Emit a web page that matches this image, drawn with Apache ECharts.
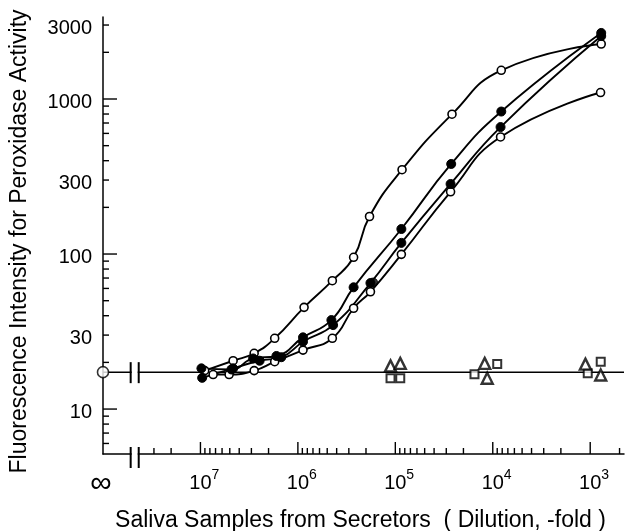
<!DOCTYPE html>
<html><head><meta charset="utf-8">
<script src="https://cdn.jsdelivr.net/npm/echarts@6/dist/echarts.min.js"></script>
<style>html,body{margin:0;padding:0;background:#fff}#c{width:628px;height:531px}</style>
</head><body><div id="c"></div>
<script>
// ---- data: [dilution (-fold), fluorescence intensity] ----
const curveA = [[9.04e6,17.7],[4.62e6,20.5],[2.81e6,22.9],[1.73e6,28.6],[8.64e5,45.3],[4.43e5,67.3],[2.68e5,95.3],[1.84e5,174.6],[8.53e4,350],[2.62e4,798],[8.18e3,1531],[7.71e2,2264]];
const curveB = [[9.77e6,18.3],[4.81e6,18.0],[2.88e6,21.2],[1.66e6,22.0],[8.86e5,29.0],[4.53e5,37.5],[2.68e5,61.0],[8.67e4,145],[2.67e4,381],[8.18e3,830],[7.71e2,2668]];
const curveC = [[9.6e6,15.9],[4.62e6,18.3],[2.47e6,20.5],[1.48e6,21.6],[8.86e5,27.2],[4.35e5,34.8],[1.80e5,65.0],[8.67e4,118],[2.71e4,283],[8.32e3,659],[7.71e2,2547]];
const curveCExtra = [[1.69e5,65.5]];
const curveD = [[7.41e6,16.7],[5.08e6,16.7],[2.81e6,17.7],[1.73e6,20.2],[8.86e5,24.0],[4.43e5,28.6],[2.68e5,44.7],[1.80e5,57.1],[8.67e4,99.5],[2.71e4,252],[8.32e3,569],[7.83e2,1101]];
const nonSecSquares = [[1.12e5,15.8],[8.9e4,15.8],[1.54e4,16.8],[9.0e3,19.5],[1.06e3,17.0],[7.8e2,20.2]];
const nonSecTriangles = [[1.12e5,19.0],[8.9e4,19.7],[1.21e4,19.7],[1.14e4,15.8],[1.12e3,19.5],[7.8e2,16.6]];
const blankLevel = 17.3;          // blank (∞ dilution)
const infinityDilution = 1e8;     // where "∞" sits on the axis
const xAxisMin = 450;             // right end of the dilution axis
const yAxisMin = 5.13, yAxisMax = 3380;
const breakDilutions = [5.2e7, 4.3e7];

// ---- ticks & labels ----
const xMajorTicks = [1e7, 1e6, 1e5, 1e4, 1e3];
const xMinorTicks = [3e7, 2e7,
  9e6, 8e6, 7e6, 6e6, 5e6, 4e6, 3e6, 2e6,
  9e5, 8e5, 7e5, 6e5, 5e5, 4e5, 3e5, 2e5,
  9e4, 8e4, 7e4, 6e4, 5e4, 4e4, 3e4, 2e4,
  9e3, 8e3, 7e3, 6e3, 5e3, 4e3, 3e3, 2e3, 500];
const yMajorTicks = [10, 100, 1000];
const yMinorTicks = [6, 7, 8, 9, 20, 30, 40, 50, 60, 70, 80, 90, 200, 300, 400, 500, 600, 700, 800, 900, 2000, 3000];
const yTickLabels = [10, 30, 100, 300, 1000, 3000];

const FONT = '"Liberation Sans", Arial, Helvetica, sans-serif';
const chart = echarts.init(document.getElementById('c'), null, {renderer: 'canvas'});

function tickSeries(vals, dir, len) {
  return {
    type: 'custom', clip: false, silent: true, z: 6,
    data: vals.map(v => dir === 'x' ? [v, yAxisMin] : [infinityDilution, v]),
    encode: {x: 0, y: 1},
    renderItem: (p, api) => {
      const c = api.coord([api.value(0), api.value(1)]);
      const shape = dir === 'x'
        ? {x1: c[0], y1: c[1], x2: c[0], y2: c[1] - len}
        : {x1: c[0], y1: c[1], x2: c[0] + len, y2: c[1]};
      return {type: 'line', shape, style: {stroke: '#000', lineWidth: 1.4}};
    }
  };
}

const openCircle = {color: '#fff', borderColor: '#000', borderWidth: 1.6};
const filledCircle = {color: '#000', borderColor: '#000', borderWidth: 1};
function curve(data, style, size) {
  return {type: 'line', data, smooth: 0.5, symbol: 'circle', symbolSize: size, showSymbol: true,
    lineStyle: {color: '#000', width: 1.9}, itemStyle: style, z: 3, clip: false};
}

chart.setOption({
  animation: false,
  backgroundColor: '#fff',
  grid: {left: 103, right: 4, top: 17, bottom: 77, containLabel: false, outerBoundsMode: 'none'},
  xAxis: {
    type: 'log', logBase: 10, inverse: true, min: xAxisMin, max: infinityDilution,
    axisLine: {show: true, lineStyle: {color: '#000', width: 1.5}},
    axisTick: {show: false}, axisLabel: {show: false}, splitLine: {show: false}, minorTick: {show: false},
    name: 'Saliva Samples from Secretors  ( Dilution, -fold )', nameLocation: 'middle', nameGap: 55,
    nameTextStyle: {fontSize: 23, color: '#000', fontFamily: FONT, padding: [0, 6, 0, 0]}
  },
  yAxis: {
    type: 'log', logBase: 10, min: yAxisMin, max: yAxisMax,
    axisLine: {show: true, lineStyle: {color: '#000', width: 1.5}},
    axisTick: {show: false}, axisLabel: {show: false}, splitLine: {show: false}, minorTick: {show: false},
    name: 'Fluorescence Intensity for Peroxidase Activity', nameLocation: 'middle', nameGap: 72,
    nameTextStyle: {fontSize: 23, color: '#000', fontFamily: FONT, padding: [0, 12, 0, 0]}
  },
  series: [
    {type: 'line', data: [[infinityDilution, blankLevel], [xAxisMin, blankLevel]], symbol: 'none',
      lineStyle: {color: '#000', width: 1.5}, z: 2, silent: true},
    curve(curveA, openCircle, 8),
    curve(curveD, openCircle, 8),
    curve(curveB, filledCircle, 9),
    curve(curveC, filledCircle, 9),
    {type: 'scatter', data: curveCExtra, symbol: 'circle', symbolSize: 9, itemStyle: filledCircle, z: 4},
    {type: 'scatter', data: nonSecSquares, symbol: 'rect', symbolSize: 8,
      itemStyle: {color: '#fff', borderColor: '#000', borderWidth: 2}, z: 4},
    {type: 'scatter', data: nonSecTriangles, symbol: 'triangle', symbolSize: 11,
      itemStyle: {color: '#fff', borderColor: '#000', borderWidth: 2.4}, z: 4},
    {type: 'scatter', data: [[infinityDilution, blankLevel]], symbol: 'circle', symbolSize: 11, clip: false,
      itemStyle: {color: '#fff', borderColor: '#000', borderWidth: 1.6}, z: 7},
    tickSeries(xMajorTicks, 'x', 12),
    tickSeries(xMinorTicks, 'x', 6),
    tickSeries(yMajorTicks, 'y', 14),
    tickSeries(yMinorTicks, 'y', 6),
    { // x tick labels 10^n
      type: 'custom', clip: false, silent: true, z: 6,
      data: xMajorTicks.map(v => [v, yAxisMin]), encode: {x: 0, y: 1},
      renderItem: (p, api) => {
        const c = api.coord([api.value(0), api.value(1)]);
        const e = Math.round(Math.log10(api.value(0)));
        return {type: 'group', children: [
          {type: 'text', x: c[0], y: c[1] + 29, style: {text: '10', fontSize: 20, fontFamily: FONT, fill: '#000', align: 'center', verticalAlign: 'middle'}},
          {type: 'text', x: c[0] + 11, y: c[1] + 21, style: {text: String(e), fontSize: 14, fontFamily: FONT, fill: '#000', align: 'left', verticalAlign: 'middle'}}
        ]};
      }
    },
    { // ∞ label
      type: 'custom', clip: false, silent: true, z: 6,
      data: [[infinityDilution, yAxisMin]], encode: {x: 0, y: 1},
      renderItem: (p, api) => {
        const c = api.coord([api.value(0), api.value(1)]);
        return {type: 'text', x: c[0] - 2, y: c[1] + 30, style: {text: '∞', fontSize: 30, fontFamily: FONT, fill: '#000', align: 'center', verticalAlign: 'middle'}};
      }
    },
    { // y tick labels
      type: 'custom', clip: false, silent: true, z: 6,
      data: yTickLabels.map(v => [infinityDilution, v]), encode: {x: 0, y: 1},
      renderItem: (p, api) => {
        const c = api.coord([api.value(0), api.value(1)]);
        return {type: 'text', x: c[0] - 11, y: c[1] + 3, style: {text: String(api.value(1)), fontSize: 20, fontFamily: FONT, fill: '#000', align: 'right', verticalAlign: 'middle'}};
      }
    }
  ]
});

// axis breaks, positioned through the axis scales
const bx1 = chart.convertToPixel({xAxisIndex: 0}, breakDilutions[0]);
const bx2 = chart.convertToPixel({xAxisIndex: 0}, breakDilutions[1]);
const yb = chart.convertToPixel({yAxisIndex: 0}, blankLevel);
const ya = chart.convertToPixel({yAxisIndex: 0}, yAxisMin);
function breakMark(y, up, down) {
  return [
    {type: 'rect', z: 100, shape: {x: bx1 + 1, y: y - 3, width: bx2 - bx1 - 2, height: 6}, style: {fill: '#fff'}},
    {type: 'line', z: 101, shape: {x1: bx1, y1: y - up, x2: bx1, y2: y + down}, style: {stroke: '#000', lineWidth: 2}},
    {type: 'line', z: 101, shape: {x1: bx2, y1: y - up, x2: bx2, y2: y + down}, style: {stroke: '#000', lineWidth: 2}}
  ];
}
chart.setOption({graphic: breakMark(yb, 10, 11).concat(breakMark(ya, 7, 14))});
</script>
</body></html>
